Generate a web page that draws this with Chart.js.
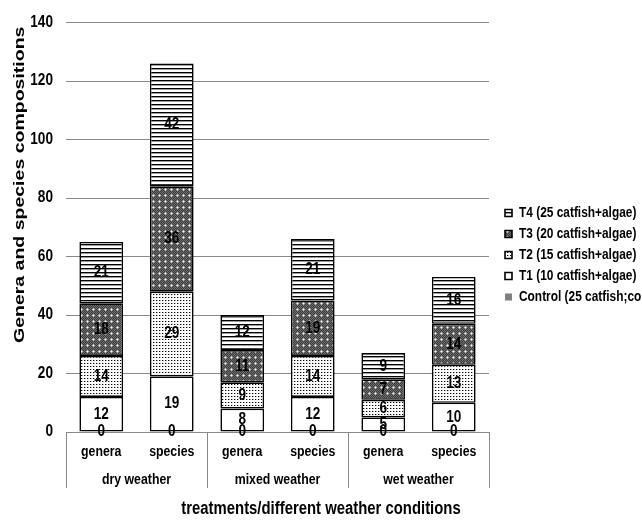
<!DOCTYPE html>
<html>
<head>
<meta charset="utf-8">
<script src="https://cdn.jsdelivr.net/npm/chart.js@4.4.1/dist/chart.umd.min.js"></script>
<style>
html,body{margin:0;padding:0;background:#fff;overflow:hidden;}
#wrap{width:642px;height:521px;}
</style>
</head>
<body>
<div id="wrap"><canvas id="c" width="642" height="521"></canvas></div>
<script>
// ---- data ----
const categories = ['genera', 'species', 'genera', 'species', 'genera', 'species'];
const weatherGroups = ['dry weather', 'mixed weather', 'wet weather'];
const seriesNames = [
  'Control (25 catfish;commercial feed)',
  'T1 (10 catfish+algae)',
  'T2 (15 catfish+algae)',
  'T3 (20 catfish+algae)',
  'T4 (25 catfish+algae)'
];
const controlValues = [0, 0, 0, 0, 0, 0];
const t1Values = [12, 19, 8, 12, 5, 10];
const t2Values = [14, 29, 9, 14, 6, 13];
const t3Values = [18, 36, 11, 19, 7, 14];
const t4Values = [21, 42, 12, 21, 9, 16];
const yMin = 0, yMax = 140, yStep = 20;
const yTitle = 'Genera and species compositions';
const xTitle = 'treatments/different weather conditions';

// ---- styles ----
const FAM = '"Liberation Sans", Arial, sans-serif';
const GRID = '#888888';
const NARROW = 0.85;   // condensed look for horizontal text
const TALL = 1.3;      // stretched look for the rotated axis title

const canvas = document.getElementById('c');
const ctx2d = canvas.getContext('2d');
const origFill = ctx2d.fillText.bind(ctx2d);
const origMeasure = ctx2d.measureText.bind(ctx2d);
ctx2d.fillText = function (text, x, y, maxWidth) {
  const t = this.getTransform();
  const f = Math.abs(t.b) > 1e-6 ? TALL : NARROW;
  this.save();
  this.translate(x, y);
  this.scale(f, 1);
  if (maxWidth !== undefined) origFill(text, 0, 0, maxWidth / f); else origFill(text, 0, 0);
  this.restore();
};
ctx2d.measureText = function (text) {
  const m = origMeasure(text);
  return {
    width: m.width * NARROW,
    actualBoundingBoxAscent: m.actualBoundingBoxAscent,
    actualBoundingBoxDescent: m.actualBoundingBoxDescent,
    actualBoundingBoxLeft: m.actualBoundingBoxLeft * NARROW,
    actualBoundingBoxRight: m.actualBoundingBoxRight * NARROW
  };
};

function makePattern(kind) {
  const c = document.createElement('canvas');
  const g = c.getContext('2d');
  if (kind === 'hlines') {
    c.width = 4; c.height = 4;
    g.fillStyle = '#ffffff'; g.fillRect(0, 0, 4, 4);
    g.fillStyle = '#000000'; g.fillRect(0, 0, 4, 1);
    g.fillStyle = '#9a9a9a'; g.fillRect(0, 1, 4, 1);
  } else if (kind === 'darkdots') {
    c.width = 6; c.height = 6;
    for (let y = 0; y < 6; y++) for (let x = 0; x < 6; x++) {
      g.fillStyle = ((x + y) % 2) ? '#3a3a3a' : '#707070';
      g.fillRect(x, y, 1, 1);
    }
    g.fillStyle = '#b8b8b8';
    g.fillRect(2, 3, 3, 1); g.fillRect(3, 2, 1, 3);
    g.fillStyle = '#ffffff'; g.fillRect(3, 3, 1, 1);
  } else if (kind === 'lightdots') {
    c.width = 3; c.height = 3;
    g.fillStyle = '#ffffff'; g.fillRect(0, 0, 3, 3);
    g.fillStyle = '#000000'; g.fillRect(0, 0, 1, 1);
    g.fillStyle = '#b0b0b0'; g.fillRect(1, 0, 1, 1);
  }
  return g.createPattern(c, 'repeat');
}

const seriesValues = [controlValues, t1Values, t2Values, t3Values, t4Values];
const seriesFills = ['#808080', '#ffffff', makePattern('lightdots'), makePattern('darkdots'), makePattern('hlines')];

const datasets = seriesValues.map((vals, i) => ({
  label: seriesNames[i],
  data: vals,
  backgroundColor: seriesFills[i],
  borderColor: '#000000',
  borderWidth: i === 0 ? 0 : 1.6,
  borderSkipped: false,
  categoryPercentage: 1,
  barPercentage: 0.62
}));

const valueLabels = {
  id: 'valueLabels',
  afterDatasetsDraw(chart) {
    const ctx = chart.ctx;
    ctx.save();
    ctx.font = 'bold 16px ' + FAM;
    ctx.fillStyle = '#000';
    ctx.textAlign = 'center';
    ctx.textBaseline = 'middle';
    chart.data.datasets.forEach((ds, i) => {
      const meta = chart.getDatasetMeta(i);
      meta.data.forEach((el, j) => {
        const p = el.getProps(['x', 'y', 'base'], true);
        ctx.fillText(String(ds.data[j]), p.x, (p.y + p.base) / 2);
      });
    });
    ctx.restore();
  }
};

// vertical dividers of the two-level category table, taken from the group scale
const groupDividers = {
  id: 'groupDividers',
  afterDraw(chart) {
    const s = chart.scales.x2;
    const ctx = chart.ctx;
    ctx.save();
    ctx.strokeStyle = GRID;
    ctx.lineWidth = 1;
    ctx.beginPath();
    for (let i = 0; i <= weatherGroups.length; i++) {
      const px = Math.round(s.getPixelForValue(i - 0.5)) + 0.5;
      ctx.moveTo(px, chart.chartArea.bottom);
      ctx.lineTo(px, s.bottom);
    }
    ctx.stroke();
    ctx.restore();
  }
};

const boxNudge = {
  id: 'boxNudge',
  afterLayout(chart) {
    const l = chart.legend;
    if (l) { l.left += 9; l.right += 9; l.top -= 16; l.bottom -= 16; }
    chart.boxes.forEach((b) => {
      if (b.options && b.options.text === yTitle) { b.top += 4; b.bottom += 4; }
    });
  }
};

new Chart(canvas, {
  type: 'bar',
  data: { labels: categories, datasets },
  plugins: [valueLabels, groupDividers, boxNudge],
  options: {
    responsive: false,
    animation: false,
    layout: { padding: { top: 21, left: 0, right: 0, bottom: 0 } },
    plugins: {
      tooltip: { enabled: false },
      legend: {
        position: 'right',
        reverse: true,
        maxWidth: 153,
        labels: {
          boxWidth: 7, boxHeight: 7, padding: 7,
          color: '#000',
          font: { family: FAM, size: 14, weight: 'bold' }
        }
      },
      title: {
        display: true,
        text: xTitle,
        position: 'bottom',
        color: '#000',
        font: { family: FAM, size: 17.5, weight: 'bold' },
        padding: { top: 10.5, bottom: 1.5 }
      },
      subtitle: {
        display: true,
        text: yTitle,
        position: 'left',
        align: 'end',
        fullSize: false,
        color: '#000',
        font: { family: FAM, size: 15, weight: 'bold' },
        padding: { top: 11, bottom: 0 }
      }
    },
    scales: {
      x: {
        stacked: true,
        offset: true,
        weight: 0,
        grid: { display: false, drawTicks: false },
        border: { display: true, color: GRID },
        ticks: {
          padding: 11.3, color: '#000', autoSkip: false, maxRotation: 0,
          font: { family: FAM, size: 14.5, weight: 'bold' }
        }
      },
      x2: {
        type: 'category',
        labels: weatherGroups,
        position: 'bottom',
        offset: true,
        weight: 1,
        grid: { display: false, drawTicks: false },
        border: { display: false },
        ticks: {
          padding: -0.7, color: '#000', autoSkip: false, maxRotation: 0,
          font: { family: FAM, size: 14.5, weight: 'bold' }
        }
      },
      y: {
        stacked: true,
        min: yMin, max: yMax,
        ticks: {
          stepSize: yStep, padding: 13, color: '#000',
          font: { family: FAM, size: 16, weight: 'bold' }
        },
        grid: { color: GRID, drawTicks: false },
        border: { display: false },
        afterFit(scale) { scale.width = 37; }
      }
    }
  }
});
</script>
</body>
</html>
